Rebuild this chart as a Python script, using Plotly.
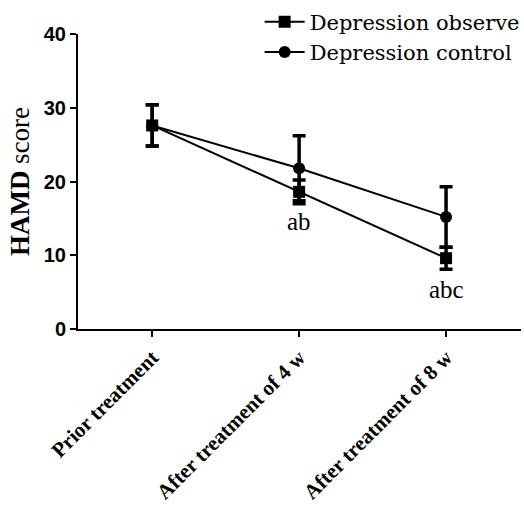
import plotly.graph_objects as go

categories = ["Prior treatment", "After treatment of 4 w", "After treatment of 8 w"]
observe_mean = [27.6, 18.6, 9.6]
observe_err = [2.8, 1.6, 1.5]
control_mean = [27.6, 21.8, 15.2]
control_err = [2.8, 4.4, 4.1]
annot_text = ["", "ab", "abc"]
annot_y = [None, 14.6, 5.3]

x_idx = list(range(len(categories)))

fig = go.Figure()
fig.add_trace(go.Scatter(
    x=x_idx, y=observe_mean, name="Depression observe", mode="lines+markers",
    legendgroup="a",
    line=dict(color="black", width=2),
    marker=dict(symbol="square", size=12, color="black"),
    error_y=dict(type="data", array=observe_err, color="black", thickness=3.5, width=6.5),
))
fig.add_trace(go.Scatter(
    x=x_idx, y=control_mean, name="Depression control", mode="lines+markers",
    legendgroup="b",
    line=dict(color="black", width=2),
    marker=dict(symbol="circle", size=12, color="black"),
    error_y=dict(type="data", array=control_err, color="black", thickness=3.5, width=6.5),
))

for xi, t, yv in zip(x_idx, annot_text, annot_y):
    if t:
        fig.add_annotation(x=xi, y=yv, text=t, showarrow=False,
                           font=dict(family="Liberation Serif", size=25, color="black"))

fig.update_layout(
    width=524, height=508,
    margin=dict(l=78, r=3, t=34, b=179, autoexpand=False),
    paper_bgcolor="white", plot_bgcolor="white",
    showlegend=True,
    legend=dict(x=0.41, y=1.11, xanchor="left", yanchor="top",
                font=dict(family="DejaVu Serif", size=21, color="black"),
                bgcolor="rgba(0,0,0,0)", itemwidth=40, tracegroupgap=0,
                traceorder="grouped"),
    xaxis=dict(
        range=[-0.505, 2.51], tickmode="array", tickvals=x_idx, ticktext=categories,
        tickangle=-45, showgrid=False, zeroline=False, automargin=False,
        showline=True, linecolor="black", linewidth=2,
        ticks="outside", ticklen=6, tickwidth=2, tickcolor="black",
        tickfont=dict(family="Liberation Serif", size=21, color="black", weight="bold"),
    ),
    yaxis=dict(
        range=[0, 40], tickvals=[0, 10, 20, 30, 40], showgrid=False, zeroline=False,
        automargin=False,
        showline=True, linecolor="black", linewidth=2,
        ticks="outside", ticklen=6, tickwidth=2, tickcolor="black",
        tickfont=dict(family="Liberation Sans", size=20, color="black", weight="bold"),
        title=dict(text="<b>HAMD</b> score", standoff=6,
                   font=dict(family="Liberation Serif", size=27, color="black")),
    ),
)

fig.write_html("out.html", config={"displayModeBar": False},
               post_script="document.body.style.margin='0';document.body.style.overflow='hidden';")
